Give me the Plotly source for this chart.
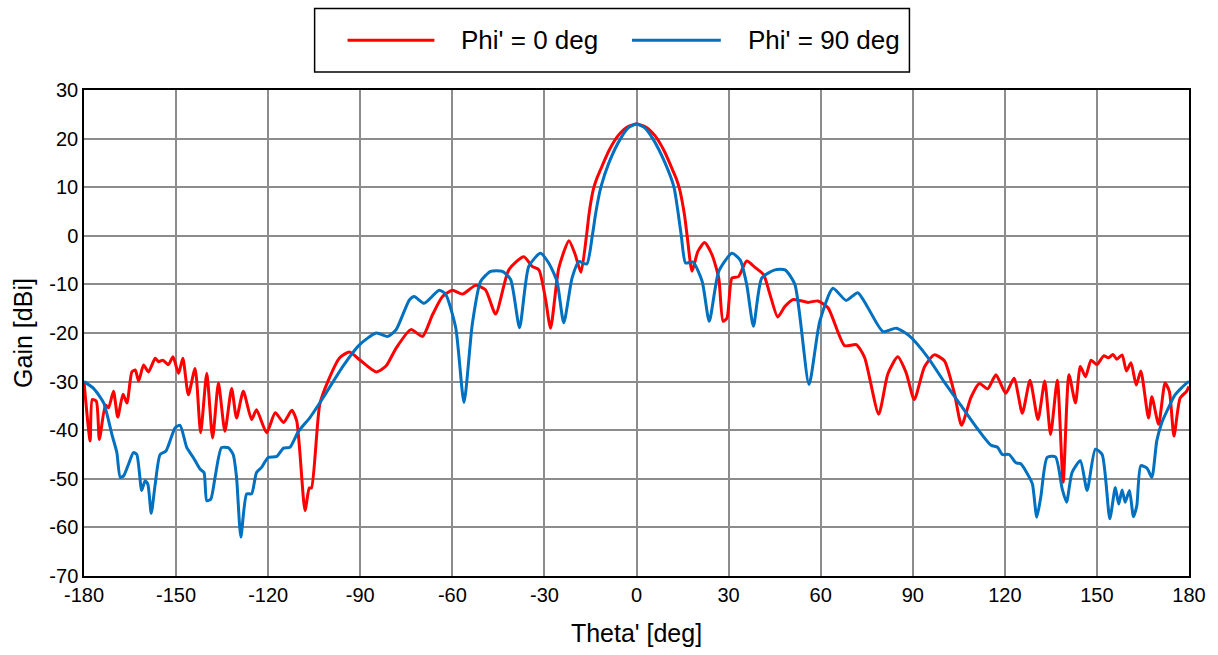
import plotly.graph_objects as go

# Radiation pattern cuts: theta' in degrees, gain in dBi
theta_phi0 = [-180, -178, -177.3, -176, -175, -173, -172, -170.4, -169, -167.3, -166, -164.4, -163.3, -162.2,
              -160.6, -159, -156.8, -155.7, -154.3, -152.5, -151, -149.2, -147.8, -146, -143.8, -142, -140,
              -138.1, -136.2, -134.1, -131.9, -130.3, -128.1, -125.4, -123.8, -120.5, -117.7, -115, -112.3,
              -110.7, -108, -106.6, -105.9, -103.2, -100.5, -96.7, -93.5, -90.2, -84.8, -81.6, -78.3, -73.5,
              -69.7, -66.5, -63.2, -60, -56.7, -52.4, -49.2, -45.9, -41.6, -36.7, -34, -31.8, -29.7, -28,
              -25.3, -22, -20, -18.1, -16.3, -15.5, -14.8, -14, -13, -12, -9, -6, -3, 0, 3, 6, 9, 12, 13,
              14, 14.9, 15.7, 16.5,
              18.1, 20, 22.2, 24.6,
              26.8, 28.2, 29.5, 31.1, 33.2, 35.9, 38.6, 41.4, 43.5, 46, 48.4, 51.1, 55.9, 59.1, 62.4, 67.8,
              71.6, 74.3, 78.9, 81.9, 85.1, 87.8, 90.5, 93.8, 97, 100.3, 103.6, 105.9, 109, 111.7, 114.4,
              117.1, 120.3, 123, 125.7, 128.2, 130.8, 133, 134.9, 137.1, 139, 140.9, 143, 144.6, 146.3,
              148.1, 150, 152.2, 153.8, 155.2, 156.5, 158.2, 159.6, 161.1, 162.8, 164.3, 166.8, 167.9,
              170.1, 172.2, 173.6, 175.1, 177.1, 179.2, 180]
gain_phi0 = [-30, -42.2, -33.7, -34, -41.9, -34.8, -35.4, -32, -37.3, -32.6, -34.4, -28, -27.6, -29.9,
             -26.6, -28, -25.2, -25.9, -25.6, -26.5, -24.9, -28.3, -25.2, -32.7, -27.3, -40.5, -28.3,
             -41.6, -30.3, -40.2, -31.4, -37.5, -32, -37.8, -35.8, -40.5, -36.4, -38.4, -35.9,
             -38.1, -56.5, -51.9, -51.9, -34.7, -29.9, -25.1, -23.9, -25.5, -28, -26.8, -23.1, -19.3,
             -20.7, -16.3, -12.5, -11.2, -12, -10.2, -11.1, -16.1, -7, -4.3, -6.3, -7, -12.8, -19,
             -6.6, -1, -3.8, -7.5, 0, 4.3, 7.2, 9.7, 11.7, 13.2, 17.5, 20.6, 22.4, 23, 22.4, 20.6, 17.5, 13.2, 11.7,
             9.7, 7, 4, 0,
             -7.3, -3.2, -1.4, -3.9,
             -8.7, -17.6, -16.9, -8.7, -8.4, -5.2, -6.5, -8, -12.1, -16.7, -14.5, -13.1, -13.7, -13.4, -14.8, -22.6,
             -22.4, -25, -36.7, -28.4, -24.9, -28.1, -33.7, -27, -24.5, -25.7, -32.5, -39, -33.2, -30.4, -31.5,
             -28.6, -32.4, -29.3, -36.5, -29.7, -37.8, -29.9, -40.9, -29.7, -50.7, -28.6, -34.4, -26.9, -29,
             -25.6, -26.5, -24.7, -25.1, -24.4, -25.4, -24.5, -27.8, -26.1, -30.7, -27.8, -37.5, -33.1,
             -38.8, -30.3, -32, -41.2, -33.4, -32, -31]

theta_phi90 = [-180, -176.9, -173.6, -170.9, -169.3, -168.2, -167.1, -165.5, -163.9, -162.8, -161.2, -160.1,
               -159.2, -158.1, -156.8, -155.2, -153.3, -150.3, -148.7, -146.5, -144.4, -142.2, -140.9, -140,
               -138.7, -137.3, -135.2, -133, -131.4, -130.3, -128.9, -127, -125.4, -123.8, -122.2, -120,
               -117.2, -115, -112.9, -110.2, -106.4, -102.1, -95.6, -90.2, -84.8, -81, -78.3, -74, -72.4,
               -69.2, -64.3, -62.2, -58.9, -56.2, -53.5, -50.8, -47.5, -43.7, -41, -38.1, -35.1, -31.3,
               -28.6, -25.9, -23.7, -21, -18.8, -16.2, -14.4, -13.2, -11.6, -9, -5.2, -2.5, 0, 2.5, 5.3,
               9.3, 12.2, 13.5, 14.6, 16,
               18.4, 21.4, 23.7, 26.8, 31.1, 33.8, 35.9, 38.1, 40.8, 45.1, 48.4, 51.6, 56.2, 59.7, 64,
               68.3, 72.1, 75.4, 80.3, 84.6, 88.9, 94.9, 100.3, 105.7, 111.1, 115.5, 117.6, 119.2, 121.4,
               123.6, 125.2, 127.9, 129, 130.4, 131.7, 133.8, 136.5, 138.7, 140.1, 141.9, 144.6, 146.8,
               149.5, 151.7, 154.2, 156, 157.1, 158.2, 159.2, 160.6, 161.9, 163, 164.3, 166.3, 167.9,
               169.5, 171.1, 173.3, 175.5, 179.2, 180]
gain_phi90 = [-30, -31.4, -34.4, -40.9, -44.6, -49.7, -49.4, -47, -44.6, -45, -52.4, -50.4,
              -51.1, -57.1, -51.1, -45, -44.3, -39.5, -39, -43.6, -45.6, -48, -48.7, -54.5,
              -54.2, -49.7, -43.6, -43.6, -45, -49.7, -62, -53.1, -53.1, -48.7, -47.7, -45.6,
              -45.4, -43.7, -43.5, -40.3, -37.4, -33.3, -26.8, -22.4, -20, -20.7, -19.3, -13.2, -12.5,
              -13.9, -11.2, -12, -18.9, -34.3, -18.2, -9.4, -7.3, -7.3, -9, -18.9, -6.3, -3.6,
              -5.6, -9.4, -17.9, -8.7, -5.3, -5.8, 0, 5, 10, 15, 20, 22.3, 23, 22.3, 20,
              15, 10, 5, 0, -5.6,
              -5.4, -9.4, -17.6, -7.3, -3.6, -5, -10, -18.6, -8.7, -7, -7, -10, -30.6, -17.6, -10.8,
              -13.3, -11.7, -14.8, -19.7, -19, -20.6, -25, -30.1, -34.9, -39.7, -43.1, -43.5, -45, -45,
              -46.7, -46.9, -49.6, -51.1, -57.9, -53.8, -45.6, -45.5, -52.1, -54.8, -48.7, -46.3, -52.4,
              -43.9, -45, -58.2, -51.8, -55.2, -52.3, -54.8, -52.4, -57.8, -55.5, -47.3, -47.8, -49.7,
              -42.2, -38.5, -35.4, -32.7, -30.3, -30]

assert len(theta_phi0) == len(gain_phi0)
assert len(theta_phi90) == len(gain_phi90)

x_ticks = [-180, -150, -120, -90, -60, -30, 0, 30, 60, 90, 120, 150, 180]
y_ticks = [-70, -60, -50, -40, -30, -20, -10, 0, 10, 20, 30]

series_names = ["Phi' = 0 deg", "Phi' = 90 deg"]
series_colors = ["#ff0000", "#0070c0"]

FONT = "Liberation Sans, Arial, sans-serif"

fig = go.Figure()
fig.add_trace(go.Scatter(x=theta_phi0, y=gain_phi0, mode="lines", name=series_names[0],
                         line=dict(color=series_colors[0], width=3, shape="spline", smoothing=0.6),
                         showlegend=False))
fig.add_trace(go.Scatter(x=theta_phi90, y=gain_phi90, mode="lines", name=series_names[1],
                         line=dict(color=series_colors[1], width=3, shape="spline", smoothing=0.6),
                         showlegend=False))

grid = dict(showgrid=True, gridcolor="#8c8c8c", gridwidth=1.5, zeroline=False,
            showline=True, linecolor="black", linewidth=1.5, mirror=True,
            ticks="", tickfont=dict(family=FONT, size=20, color="black"))

fig.update_xaxes(range=[-180, 180], tickvals=x_ticks, ticktext=[str(v) for v in x_ticks],
                 title=dict(text="Theta' [deg]", font=dict(family=FONT, size=25, color="black"), standoff=20),
                 **grid)
fig.update_yaxes(range=[-70, 30], tickvals=y_ticks, ticktext=[str(v) for v in y_ticks],
                 title=dict(text="Gain [dBi]", font=dict(family=FONT, size=25, color="black"), standoff=10),
                 **grid)

# Legend drawn as a boxed row above the plot area
shapes = [dict(type="rect", xref="paper", yref="paper", x0=0.2087, x1=0.747, y0=1.0368, y1=1.1677,
               line=dict(color="black", width=1.5), fillcolor="white", layer="above")]
annotations = []
legend_items = [(0.2385, 0.3171, 0.3397), (0.4959, 0.5763, 0.5989)]
for (lx0, lx1, tx), name, color in zip(legend_items, series_names, series_colors):
    shapes.append(dict(type="line", xref="paper", yref="paper", x0=lx0, x1=lx1, y0=1.1022, y1=1.1022,
                       line=dict(color=color, width=3), layer="above"))
    annotations.append(dict(text=name, xref="paper", yref="paper", x=tx, y=1.1022, xanchor="left",
                            yanchor="middle", showarrow=False,
                            font=dict(family=FONT, size=26, color="black")))

fig.update_layout(width=1218, height=655, margin=dict(l=84, r=27, t=90, b=76),
                  paper_bgcolor="white", plot_bgcolor="white",
                  shapes=shapes, annotations=annotations, showlegend=False)

fig.write_html("out.html")
